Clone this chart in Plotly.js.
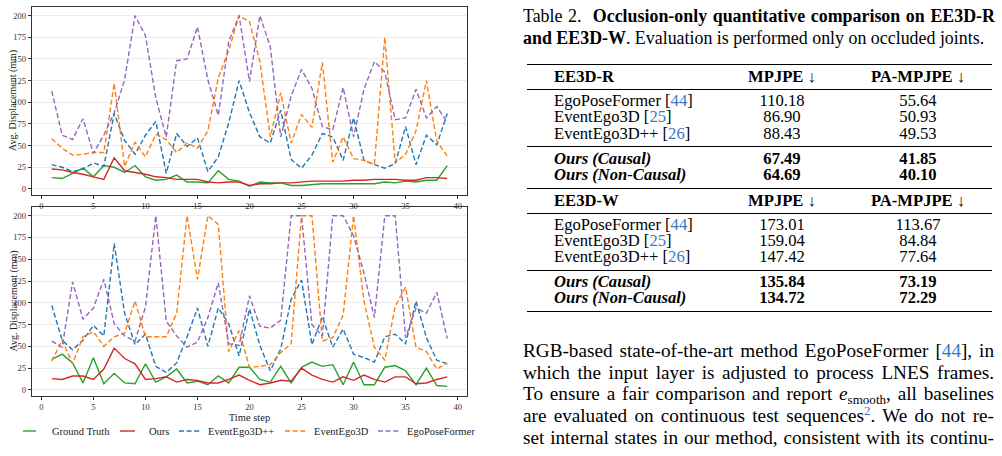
<!DOCTYPE html>
<html>
<head>
<meta charset="utf-8">
<script src="https://cdn.plot.ly/plotly-3.0.1.min.js"></script>
<style>
  html, body { margin: 0; padding: 0; background: #fff; }
  body { width: 1002px; height: 456px; position: relative; overflow: hidden;
         font-family: "Liberation Serif", "Times New Roman", serif; color: #000; }
  #plot { position: absolute; left: 0; top: 0; width: 500px; height: 456px; }
  .abs { position: absolute; white-space: nowrap; }
  .rule { position: absolute; left: 527px; width: 465px; background: #000; }
  .cite { color: #3a78c2; }
  sub.s { font-size: 0.68em; line-height: 0; vertical-align: -0.28em; }
  sup.s { font-size: 0.68em; line-height: 0; vertical-align: 0.5em; }
</style>
</head>
<body>
<div id="plot"></div>
<script>
// ---- time axis ----
const steps = [1,2,3,4,5,6,7,8,9,10,11,12,13,14,15,16,17,18,19,20,
               21,22,23,24,25,26,27,28,29,30,31,32,33,34,35,36,37,38,39];

// ---- upper sequence (mm) ----
const gtTop    = [13,12,18,24,14,27,25,19,27,14,10,11,16,8,8,7,21,11,9,3,8,7,7,4,4,5,6,6,6,6,6,6,8,7,9,8,10,10,27];
const oursTop  = [23,22,19,17,14,11,36,21,19,17,14,13,11,11,11,8,7,8,8,4,6,6,7,7,8,9,9,9,9,10,10,11,11,11,10,10,13,13,12];
const ee3dppTop = [28,25,20,23,30,26,87,56,40,62,78,18,64,49,59,20,37,76,125,88,60,53,91,34,24,39,64,60,33,82,33,28,24,29,72,28,62,51,87];
const ee3dTop  = [58,47,39,40,42,42,122,26,54,37,63,57,42,53,47,67,128,160,200,193,147,60,111,53,86,71,146,31,60,35,33,28,175,30,40,67,125,55,38];
const egoTop   = [113,62,57,81,41,62,88,126,200,177,105,60,148,150,187,126,85,170,200,124,200,164,60,107,138,116,72,68,117,60,115,147,135,80,82,115,82,95,77];

// ---- lower sequence (mm) ----
const gtBot    = [35,41,31,8,37,7,19,8,7,30,9,15,24,8,10,6,16,8,26,26,12,9,27,8,26,32,27,29,6,32,6,6,26,28,22,6,25,5,4];
const oursBot  = [13,12,16,16,12,24,48,36,30,12,13,15,9,12,11,8,8,12,17,11,6,8,11,10,25,17,12,9,15,11,17,12,9,15,15,7,8,12,15];
const ee3dppBot = [97,57,46,57,74,62,168,88,52,64,27,20,31,61,94,50,94,76,39,93,51,22,47,104,126,52,84,49,70,41,37,32,61,64,53,102,60,34,30];
const ee3dBot  = [33,57,30,61,67,50,61,65,102,61,61,61,88,200,127,200,190,44,68,26,27,29,43,53,200,200,56,60,86,200,102,49,34,96,118,49,44,24,31];
const egoBot   = [56,49,124,81,94,127,76,62,56,95,200,79,62,49,55,83,123,53,51,108,73,71,80,200,200,75,62,200,200,177,134,83,200,200,60,94,88,112,59];

const seriesNames = ['Ground Truth', 'Ours', 'EventEgo3D++', 'EventEgo3D', 'EgoPoseFormer'];
const topSeries = [gtTop, oursTop, ee3dppTop, ee3dTop, egoTop];
const botSeries = [gtBot, oursBot, ee3dppBot, ee3dBot, egoBot];
const yTicks = [0, 25, 50, 75, 100, 125, 150, 175, 200];
const xTicks = [0, 5, 10, 15, 20, 25, 30, 35, 40];
const yTitle = 'Avg. Displacement (mm)';
const xTitle = 'Time step';

// ---- table values ----
const tableR = {
  header: 'EE3D-R',
  methods: ['EgoPoseFormer', 'EventEgo3D', 'EventEgo3D++'],
  cites: ['44', '25', '26'],
  mpjpe: ['110.18', '86.90', '88.43'],
  pa: ['55.64', '50.93', '49.53'],
  ours: ['Ours (Causal)', 'Ours (Non-Causal)'],
  oursMpjpe: ['67.49', '64.69'],
  oursPa: ['41.85', '40.10']
};
const tableW = {
  header: 'EE3D-W',
  methods: ['EgoPoseFormer', 'EventEgo3D', 'EventEgo3D++'],
  cites: ['44', '25', '26'],
  mpjpe: ['173.01', '159.04', '147.42'],
  pa: ['113.67', '84.84', '77.64'],
  ours: ['Ours (Causal)', 'Ours (Non-Causal)'],
  oursMpjpe: ['135.84', '134.72'],
  oursPa: ['73.19', '72.29']
};

// ---- styling ----
const colors = ['#2ca02c', '#d62728', '#1f77b4', '#ff7f0e', '#9467bd'];
const dashes = ['solid', 'solid', '5px,2.6px', '5px,2.6px', '5px,2.6px'];
const FONT = '"Liberation Serif", "Times New Roman", serif';
const W = 500, H = 456;

const traces = [];
[topSeries, botSeries].forEach((group, p) => {
  group.forEach((vals, i) => {
    traces.push({
      x: steps, y: vals, type: 'scatter', mode: 'lines',
      name: seriesNames[i], showlegend: false,
      xaxis: p === 0 ? 'x' : 'x2', yaxis: p === 0 ? 'y' : 'y2',
      line: { color: colors[i], width: 1.4, dash: dashes[i] },
      hoverinfo: 'skip'
    });
  });
});

const xCommon = {
  range: [-0.9, 40.9], tickvals: xTicks, showgrid: false, zeroline: false,
  showline: true, mirror: true, linecolor: '#333', linewidth: 1.2,
  ticks: 'outside', ticklen: 3, tickwidth: 1, tickcolor: '#333',
  tickfont: { family: FONT, size: 8.5, color: '#333' }, fixedrange: true
};
const yCommon = {
  range: [-7, 210], tickvals: yTicks, showgrid: true, gridcolor: '#ebebeb', gridwidth: 1,
  zeroline: false, showline: true, mirror: true, linecolor: '#333', linewidth: 1.2,
  ticks: 'outside', ticklen: 3, tickwidth: 1, tickcolor: '#333',
  tickfont: { family: FONT, size: 8.5, color: '#333' }, ticklabelstandoff: 0,
  fixedrange: true
};
const xDom = [32 / W, 467 / W];
const topDom = [261 / H, 449 / H];
const botDom = [60 / H, 249 / H];

// vertical axis titles, one per panel
const annotations = [topDom, botDom].map(d => ({
  text: yTitle, xref: 'paper', yref: 'paper', x: 13 / W, y: (d[0] + d[1]) / 2,
  xanchor: 'center', yanchor: 'middle', textangle: -90, showarrow: false,
  font: { family: FONT, size: 10, color: '#222' }
}));

// legend drawn as short line samples with labels beneath the panels
const legLine0 = [23, 120, 179, 285, 378];
const legLine1 = [36, 135, 200, 306, 400];
const legText  = [50, 147, 206, 312, 405];
const legY = 1 - 431 / H;
const shapes = seriesNames.map((n, i) => ({
  type: 'line', xref: 'paper', yref: 'paper',
  x0: legLine0[i] / W, x1: legLine1[i] / W, y0: legY, y1: legY,
  line: { color: colors[i], width: 1.4, dash: dashes[i] }
}));
seriesNames.forEach((n, i) => annotations.push({
  text: n, xref: 'paper', yref: 'paper', x: legText[i] / W, y: legY,
  xanchor: 'left', yanchor: 'middle', showarrow: false,
  font: { family: FONT, size: 10.5, color: '#222' }
}));

const layout = {
  width: W, height: H, margin: { l: 0, r: 0, t: 0, b: 0 },
  paper_bgcolor: '#fff', plot_bgcolor: '#fff', showlegend: false,
  xaxis: Object.assign({}, xCommon, { domain: xDom, anchor: 'y' }),
  yaxis: Object.assign({}, yCommon, { domain: topDom, anchor: 'x' }),
  xaxis2: Object.assign({}, xCommon, { domain: xDom, anchor: 'y2',
    title: { text: xTitle, font: { family: FONT, size: 10.5, color: '#222' }, standoff: 0 } }),
  yaxis2: Object.assign({}, yCommon, { domain: botDom, anchor: 'x2' }),
  shapes: shapes, annotations: annotations
};
Plotly.newPlot('plot', traces, layout, { staticPlot: true, displayModeBar: false });

// ---- caption, table and body text ----
function put(html, x, yc, size, lh, align) {
  const d = document.createElement('div');
  d.className = 'abs';
  d.innerHTML = html;
  d.style.fontSize = size + 'px';
  d.style.lineHeight = lh + 'px';
  d.style.top = (yc - lh / 2) + 'px';
  d.style.left = x + 'px';
  if (align === 'center') d.style.transform = 'translateX(-50%)';
  document.body.appendChild(d);
  return d;
}
// stretch or squeeze the inter-word gaps so a line spans the full column
function justify(el, width) {
  const n = (el.textContent.match(/[ \u00a0]/g) || []).length;
  const w = el.getBoundingClientRect().width;
  if (n > 0) el.style.wordSpacing = ((width - w) / n) + 'px';
}
function rule(y, h) {
  const r = document.createElement('div');
  r.className = 'rule';
  r.style.top = (y - h / 2) + 'px';
  r.style.height = h + 'px';
  document.body.appendChild(r);
}

const capSize = 17.9, tabSize = 16.6, bodySize = 19.2;
const capLH = 20, tabLH = 15, bodyLH = 20;
const c1 = put('Table 2.&nbsp; <b>Occlusion-only quantitative comparison on EE3D-R</b>', 523, 15.7, capSize, capLH);
justify(c1, 472);
put('<b>and EE3D-W</b>. Evaluation is performed only on occluded joints.', 523, 37.7, capSize, capLH);

const colName = 554, colA = 782, colB = 918;
function drawBlock(t, yHead, yRows, yOurs) {
  put('<b>' + t.header + '</b>', colName, yHead, tabSize, tabLH);
  put('<b>MPJPE</b> ↓', colA, yHead, tabSize, tabLH, 'center');
  put('<b>PA-MPJPE</b> ↓', colB, yHead, tabSize, tabLH, 'center');
  t.methods.forEach((m, i) => {
    put(m + ' [<span class="cite">' + t.cites[i] + '</span>]', colName, yRows[i], tabSize, tabLH);
    put(t.mpjpe[i], colA, yRows[i], tabSize, tabLH, 'center');
    put(t.pa[i], colB, yRows[i], tabSize, tabLH, 'center');
  });
  t.ours.forEach((m, i) => {
    put('<b><i>' + m + '</i></b>', colName, yOurs[i], tabSize, tabLH);
    put('<b>' + t.oursMpjpe[i] + '</b>', colA, yOurs[i], tabSize, tabLH, 'center');
    put('<b>' + t.oursPa[i] + '</b>', colB, yOurs[i], tabSize, tabLH, 'center');
  });
}
rule(64.3, 1.3);
drawBlock(tableR, 76, [100, 116.3, 133.3], [158.7, 174]);
rule(89.3, 0.9); rule(146.7, 0.9); rule(188.3, 1.1);
drawBlock(tableW, 200, [224.3, 240.7, 256.7], [281.7, 297.7]);
rule(213.3, 0.9); rule(270, 0.9); rule(311.7, 1.3);

const bodyLines = [
  'RGB-based state-of-the-art method EgoPoseFormer [<span class="cite">44</span>], in',
  'which the input layer is adjusted to process LNES frames.',
  'To ensure a fair comparison and report <i>e</i><sub class="s">smooth</sub>, all baselines',
  'are evaluated on continuous test sequences<sup class="s cite">2</sup>. We do not re-',
  'set internal states in our method, consistent with its continu-'
];
const bodyY = [351, 372.7, 394.3, 416, 437.7];
bodyLines.forEach((l, i) => {
  const el = put(l, 523, bodyY[i], bodySize, bodyLH);
  justify(el, 471);
});
</script>
</body>
</html>
